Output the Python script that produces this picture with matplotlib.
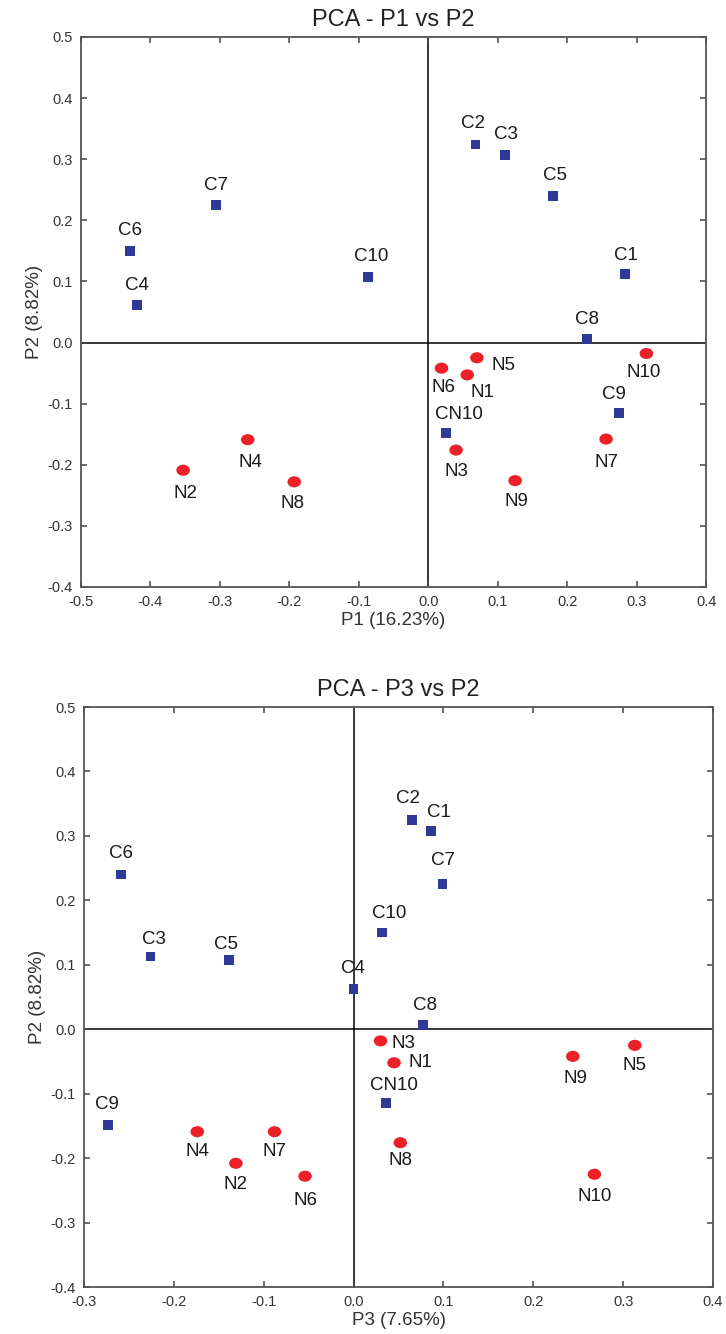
import numpy as np
import matplotlib.pyplot as plt
from matplotlib.path import Path
from matplotlib.ticker import FuncFormatter

plt.rcParams['font.family'] = ['Liberation Sans', 'DejaVu Sans']

# ---- data: P1 vs P2 ----
top_c_names = ['C1', 'C2', 'C3', 'C4', 'C5', 'C6', 'C7', 'C8', 'C9', 'C10', 'CN10']
top_c_x = [0.283, 0.068, 0.110, -0.419, 0.180, -0.429, -0.306, 0.228, 0.274, -0.087, 0.025]
top_c_y = [0.112, 0.324, 0.307, 0.062, 0.240, 0.150, 0.225, 0.006, -0.116, 0.107, -0.148]
top_n_names = ['N1', 'N2', 'N3', 'N4', 'N5', 'N6', 'N7', 'N8', 'N9', 'N10']
top_n_x = [0.056, -0.353, 0.040, -0.260, 0.070, 0.019, 0.256, -0.193, 0.125, 0.314]
top_n_y = [-0.053, -0.209, -0.176, -0.159, -0.025, -0.042, -0.158, -0.228, -0.226, -0.018]

# ---- data: P3 vs P2 ----
bot_c_names = ['C1', 'C2', 'C3', 'C4', 'C5', 'C6', 'C7', 'C8', 'C9', 'C10', 'CN10']
bot_c_x = [0.086, 0.065, -0.226, 0.000, -0.139, -0.259, 0.099, 0.077, -0.273, 0.032, 0.036]
bot_c_y = [0.307, 0.325, 0.113, 0.062, 0.107, 0.240, 0.225, 0.006, -0.148, 0.150, -0.115]
bot_n_names = ['N1', 'N2', 'N3', 'N4', 'N5', 'N6', 'N7', 'N8', 'N9', 'N10']
bot_n_x = [0.045, -0.131, 0.030, -0.174, 0.313, -0.054, -0.088, 0.052, 0.244, 0.268]
bot_n_y = [-0.052, -0.208, -0.018, -0.159, -0.025, -0.228, -0.159, -0.176, -0.042, -0.225]

# label offsets in pixels (dx, dy up)
top_offsets = {
    'C1': (1, 19), 'C2': (-3, 21), 'C3': (1, 20), 'C4': (0, 19), 'C5': (2, 20),
    'C6': (0, 20), 'C7': (0, 20), 'C8': (0, 19), 'C9': (-5, 19), 'C10': (3, 21),
    'CN10': (13, 18),
    'N1': (15, -18), 'N2': (2, -23), 'N3': (0, -21), 'N4': (3, -23), 'N5': (27, -8),
    'N6': (2, -19), 'N7': (0, -23), 'N8': (-2, -22), 'N9': (1, -21), 'N10': (-3, -19),
}
bot_offsets = {
    'C1': (8, 19), 'C2': (-4, 21), 'C3': (3, 17), 'C4': (-1, 21), 'C5': (-3, 16),
    'C6': (0, 21), 'C7': (0, 24), 'C8': (2, 20), 'C9': (-1, 20), 'C10': (7, 19),
    'CN10': (8, 18),
    'N1': (26, 0), 'N2': (0, -21), 'N3': (23, -3), 'N4': (0, -20), 'N5': (0, -20),
    'N6': (0, -24), 'N7': (0, -20), 'N8': (0, -18), 'N9': (3, -22), 'N10': (0, -22),
}

blue = '#2E3A96'
red = '#EC2027'
circ = Path.unit_circle()
ellipse = Path(circ.vertices * np.array([1.0, 0.82]), circ.codes)
fmt = FuncFormatter(lambda v, p: '%.1f' % (0.0 if abs(v) < 1e-9 else v))


def pca_panel(ax, cn, cx, cy, nn, nx, ny, offsets, xlim, xlabel, title):
    ax.axhline(0, color='black', lw=1.1, zorder=1)
    ax.axvline(0, color='black', lw=1.1, zorder=1)
    ax.scatter(cx, cy, marker='s', s=50, color=blue, edgecolors='none', zorder=3)
    ax.scatter(nx, ny, marker=ellipse, s=95, color=red, edgecolors='none', zorder=3)
    for name, x, y in list(zip(cn, cx, cy)) + list(zip(nn, nx, ny)):
        dx, dy = offsets[name]
        ax.annotate(name, (x, y), xytext=(dx, dy), textcoords='offset pixels',
                    ha='center', va='center', fontsize=13.5, color='#1a1a1a')
    ax.set_xlim(*xlim)
    ax.set_ylim(-0.4, 0.5)
    ax.set_xticks(np.arange(xlim[0], xlim[1] + 0.001, 0.1))
    ax.set_yticks(np.arange(-0.4, 0.501, 0.1))
    ax.xaxis.set_major_formatter(fmt)
    ax.yaxis.set_major_formatter(fmt)
    ax.tick_params(direction='in', length=4.5, width=1.1, top=True, right=True,
                   labelsize=10.5, labelcolor='#333333', color='#444444', pad=6)
    for sp in ax.spines.values():
        sp.set_color('#555555')
        sp.set_linewidth(1.3)
    ax.set_xlabel(xlabel, fontsize=13.5, color='#333333', labelpad=2)
    ax.set_ylabel('P2 (8.82%)', fontsize=13.5, color='#333333', labelpad=3)
    ax.set_title(title, fontsize=17, color='#222222', pad=8)


fig = plt.figure(figsize=(7.26, 13.34), dpi=100)
ax1 = fig.add_axes([0.1116, 0.560, 0.861, 0.4123])
ax2 = fig.add_axes([0.1157, 0.0352, 0.8664, 0.4348])

pca_panel(ax1, top_c_names, top_c_x, top_c_y, top_n_names, top_n_x, top_n_y,
          top_offsets, (-0.5, 0.4), 'P1 (16.23%)', 'PCA - P1 vs P2')
pca_panel(ax2, bot_c_names, bot_c_x, bot_c_y, bot_n_names, bot_n_x, bot_n_y,
          bot_offsets, (-0.3, 0.4), 'P3 (7.65%)', 'PCA - P3 vs P2')

fig.savefig('out.png', dpi=100)
